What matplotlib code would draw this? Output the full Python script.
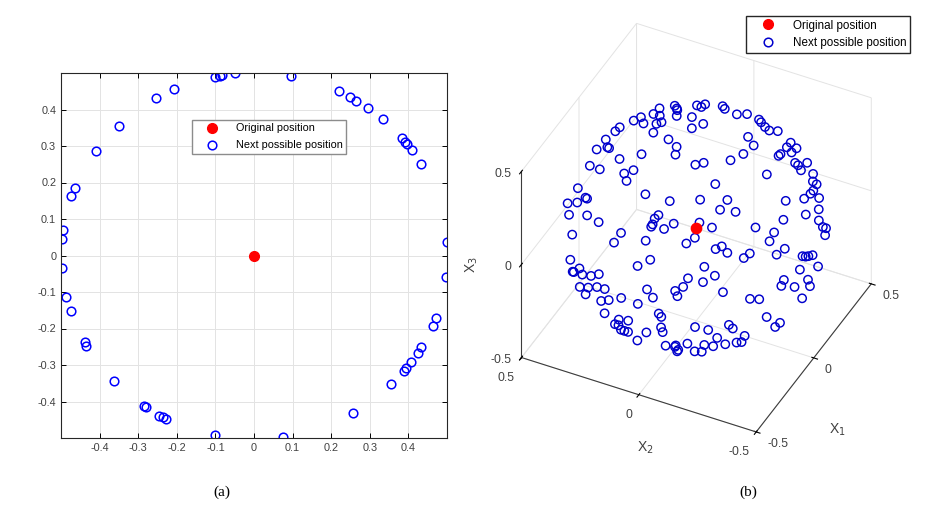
import matplotlib
matplotlib.use("Agg")
import matplotlib.pyplot as plt
from matplotlib.lines import Line2D

plt.rcParams["font.family"] = ["Liberation Sans", "DejaVu Sans"]
plt.rcParams["axes.unicode_minus"] = False
plt.rcParams["grid.color"] = "#e3e3e3"
plt.rcParams["grid.linewidth"] = 0.7

# (a) 2-D case: next possible positions on a circle of radius 0.5
pos_x = [-0.495, -0.497, -0.473, -0.463, -0.409, -0.351, -0.253, -0.207, -0.101, -0.088, -0.082, -0.049,
         0.095, 0.219, 0.248, 0.265, 0.295, 0.333, 0.383, 0.390, 0.397, 0.409, 0.432, 0.499,
         -0.498, -0.486, -0.475, -0.439, -0.434, -0.363, -0.286, -0.279, -0.245, -0.236, -0.227, -0.100,
         0.498, 0.471, 0.463, 0.433, 0.425, 0.408, 0.394, 0.389, 0.356, 0.257, 0.074]
pos_y = [0.070, 0.044, 0.162, 0.185, 0.286, 0.355, 0.431, 0.455, 0.490, 0.492, 0.494, 0.499,
         0.491, 0.450, 0.434, 0.423, 0.403, 0.373, 0.321, 0.311, 0.305, 0.288, 0.252, 0.036,
         -0.035, -0.114, -0.153, -0.238, -0.248, -0.345, -0.411, -0.416, -0.440, -0.443, -0.448, -0.491,
         -0.059, -0.172, -0.192, -0.252, -0.268, -0.292, -0.309, -0.316, -0.353, -0.431, -0.497]

# (b) 3-D case: next possible positions on a sphere of radius 0.5
x1 = [0.20, 0.34, 0.14, 0.38, 0.19, 0.28, 0.09, 0.35, 0.02, 0.34,
      0.11, 0.19, 0.03, 0.15, 0.03, 0.09, -0.08, 0.18, -0.03, 0.39,
      -0.09, 0.41, -0.15, 0.23, -0.13, 0.14, -0.22, 0.25, -0.26, -0.03,
      -0.27, 0.05, -0.26, -0.16, -0.27, 0.03, -0.30, 0.34, -0.35, 0.27,
      0.25, 0.39, 0.26, 0.41, 0.08, 0.43, 0.31, 0.41, 0.25, 0.42,
      0.32, 0.44, 0.27, 0.45, 0.32, 0.49, 0.09, 0.49, 0.33, 0.46,
      0.34, 0.44, 0.16, 0.49, -0.05, 0.44, -0.12, 0.45, 0.19, 0.44,
      0.31, 0.49, 0.28, 0.38, 0.27, 0.45, 0.18, 0.40, 0.21, 0.40,
      -0.20, 0.45, 0.08, 0.41, -0.21, 0.37, -0.08, 0.40, -0.38, -0.12,
      -0.41, 0.08, -0.32, -0.32, -0.31, -0.20, -0.42, -0.14, -0.46, -0.34,
      -0.43, -0.17, -0.47, -0.33, -0.46, -0.17, -0.49, -0.06, -0.47, 0.15,
      -0.42, 0.24, -0.38, 0.27, -0.36, 0.28, -0.44, 0.13, -0.47, 0.08,
      -0.49, 0.01, -0.41, -0.32, -0.45, -0.33, -0.47, -0.32, -0.41, -0.37,
      -0.37, -0.21, -0.49, -0.06, -0.47, -0.15, -0.41, -0.22, -0.39, -0.28,
      -0.33, -0.18, -0.32, 0.36, -0.36, 0.31, -0.33, 0.31, -0.20, 0.39,
      -0.18, 0.34, -0.18, 0.31, -0.27, 0.33, 0.12, 0.27, 0.16, 0.29,
      -0.05, 0.28, -0.01, 0.16, -0.40, 0.18, -0.39, 0.17, -0.10, 0.23,
      -0.20, 0.18, -0.05, 0.11, -0.06, 0.16, -0.29, 0.06, -0.13, -0.07,
      -0.44, -0.04, -0.37, -0.01, -0.37, -0.07, -0.26, -0.12, -0.32, -0.16,
      -0.38, -0.28, -0.30]
x2 = [0.19, 0.25, 0.15, 0.27, 0.25, 0.32, 0.20, 0.32, 0.18, 0.35,
      0.29, 0.36, 0.24, 0.40, 0.36, 0.43, 0.34, 0.46, 0.41, 0.31,
      0.04, 0.29, 0.16, 0.44, 0.39, 0.48, 0.16, 0.43, 0.17, 0.49,
      0.34, 0.49, 0.38, 0.47, 0.41, 0.48, 0.07, 0.28, -0.01, 0.31,
      0.12, 0.17, 0.09, 0.22, 0.01, 0.23, 0.04, 0.08, -0.05, -0.01,
      -0.11, -0.06, -0.16, -0.09, -0.19, 0.02, -0.20, 0.04, -0.24, -0.16,
      -0.26, -0.19, -0.28, -0.11, -0.17, 0.22, -0.09, -0.20, -0.34, -0.23,
      -0.32, -0.06, -0.36, -0.31, -0.38, 0.14, -0.41, -0.29, -0.42, 0.18,
      -0.23, -0.16, -0.42, 0.10, -0.27, -0.34, -0.41, -0.27, 0.23, 0.47,
      0.12, 0.39, 0.38, 0.37, 0.37, 0.40, 0.28, 0.38, 0.19, 0.33,
      0.25, 0.34, 0.16, 0.31, 0.18, 0.29, 0.08, 0.22, 0.02, 0.27,
      0.01, 0.31, 0.00, 0.27, -0.08, 0.18, -0.18, 0.12, -0.14, 0.12,
      -0.03, 0.19, 0.19, 0.19, 0.11, 0.17, 0.06, 0.15, 0.09, 0.14,
      0.07, 0.11, -0.08, 0.12, -0.08, 0.07, -0.07, -0.02, -0.10, -0.06,
      -0.08, -0.05, -0.17, 0.11, -0.17, 0.07, -0.27, 0.02, -0.35, -0.14,
      -0.40, -0.21, -0.43, -0.05, -0.36, -0.36, -0.48, -0.42, -0.47, -0.31,
      -0.49, -0.34, -0.50, -0.44, -0.23, 0.06, -0.27, -0.03, -0.49, -0.26,
      -0.46, -0.33, -0.50, -0.43, -0.48, -0.15, -0.41, -0.27, -0.42, -0.37,
      -0.21, -0.07, -0.32, -0.16, -0.27, -0.24, -0.32, -0.23, -0.28, -0.15,
      -0.22, -0.13, -0.17]
x3 = [0.42, 0.27, 0.46, 0.19, 0.39, 0.26, 0.45, 0.16, 0.47, 0.10,
      0.39, 0.28, 0.44, 0.26, 0.35, 0.23, 0.36, 0.10, 0.28, 0.04,
      0.49, -0.05, 0.45, 0.01, 0.28, 0.01, 0.42, -0.08, 0.39, 0.04,
      0.24, -0.08, 0.19, 0.07, 0.12, -0.15, 0.39, -0.24, 0.35, -0.29,
      0.41, 0.27, 0.42, 0.18, 0.49, 0.10, 0.39, 0.28, 0.43, 0.28,
      0.37, 0.24, 0.39, 0.20, 0.34, 0.09, 0.45, -0.01, 0.29, 0.13,
      0.26, 0.13, 0.38, 0.04, 0.47, -0.10, 0.48, 0.07, 0.32, 0.05,
      0.23, -0.08, 0.21, 0.07, 0.17, -0.18, 0.22, -0.02, 0.16, -0.24,
      0.40, -0.15, 0.26, -0.27, 0.36, -0.06, 0.27, -0.14, 0.24, -0.13,
      0.25, -0.30, -0.07, -0.13, -0.14, -0.22, -0.03, -0.30, 0.04, -0.18,
      -0.08, -0.32, -0.02, -0.22, -0.10, -0.37, -0.02, -0.45, 0.16, -0.40,
      0.26, -0.31, 0.32, -0.33, 0.34, -0.38, 0.15, -0.47, 0.09, -0.48,
      0.07, -0.46, -0.21, -0.34, -0.18, -0.33, -0.15, -0.36, -0.27, -0.31,
      -0.34, -0.44, -0.04, -0.48, -0.13, -0.47, -0.28, -0.45, -0.29, -0.41,
      -0.37, -0.46, 0.35, -0.33, 0.30, -0.39, 0.27, -0.39, 0.30, -0.28,
      0.23, -0.30, 0.17, -0.39, 0.22, -0.08, 0.10, -0.05, 0.02, -0.26,
      0.08, -0.24, 0.06, -0.16, 0.20, -0.46, 0.16, -0.47, 0.05, -0.36,
      0.03, -0.33, -0.04, -0.23, -0.14, -0.45, 0.01, -0.42, -0.24, -0.33,
      -0.10, -0.49, -0.10, -0.47, -0.19, -0.43, -0.28, -0.43, -0.26, -0.45,
      -0.24, -0.39, -0.36]

# original position (centre)
orig_2d = ([0], [0])
orig_3d = ([0], [0], [0])

ticks2d = [-0.4, -0.3, -0.2, -0.1, 0, 0.1, 0.2, 0.3, 0.4]
ticks3d = [-0.5, 0, 0.5]
labels = ["Original position", "Next possible position"]

fig = plt.figure(figsize=(9.42, 5.16), dpi=100)

# --- (a)
ax1 = fig.add_axes([61/942, 1-438/516, 386/942, 365/516])
ax1.plot(pos_x, pos_y, "o", ls="none", mfc="none", mec="b", ms=6.2, mew=1.1, label=labels[1])
ax1.plot(*orig_2d, "o", color="r", ms=7, label=labels[0])
ax1.set_xlim(-0.5, 0.5)
ax1.set_ylim(-0.5, 0.5)
ax1.set_xticks(ticks2d, [f"{t:g}" for t in ticks2d])
ax1.set_yticks(ticks2d, [f"{t:g}" for t in ticks2d])
ax1.grid(True)
ax1.tick_params(direction="in", length=3.5, top=True, right=True, labelsize=7.8, labelcolor="#404040", width=0.7)
for s in ax1.spines.values():
    s.set_linewidth(0.8)
    s.set_color("#262626")
h, l = ax1.get_legend_handles_labels()
ax1.legend(h[::-1], l[::-1], loc="upper left", bbox_to_anchor=(0.339, 0.871), fontsize=7.8,
           fancybox=False, edgecolor="#8c8c8c", framealpha=1, borderpad=0.3, borderaxespad=0,
           handlelength=3.2, handletextpad=0.55, labelspacing=0.65)

# --- (b)
blue3d = "#0000cc"
ax2 = fig.add_axes([0.4830, 0.0910, 0.499, 0.911], projection="3d")
ax2.set_proj_type("ortho")
ax2.view_init(elev=39.7, azim=-153.6)
ax2.set_box_aspect((260.9, 264.2, 243.8), zoom=0.91)
ax2.computed_zorder = False
ax2.scatter(x1, x2, x3, facecolors="none", edgecolors=blue3d, s=36, linewidths=1.05, depthshade=False)
ax2.scatter(*orig_3d, c="r", s=55, depthshade=False)
ax2.set_xlim(-0.5, 0.5)
ax2.set_ylim(-0.5, 0.5)
ax2.set_zlim(-0.5, 0.5)
for ax_ in (ax2.xaxis, ax2.yaxis, ax2.zaxis):
    ax_.set_pane_color((1, 1, 1, 0))
    ax_.pane.set_edgecolor("#d9d9d9")
    ax_.line.set_color("#3c3c3c")
    ax_.set_ticks(ticks3d, [f"{t:g}" for t in ticks3d])
ax2.tick_params(labelsize=8.8, labelcolor="#404040")
ax2.xaxis.set_tick_params(pad=0.2)
ax2.yaxis.set_tick_params(pad=2.6)
ax2.zaxis.set_tick_params(pad=-3)
plt.setp(ax2.get_xticklabels(), ha="left", va="center")
plt.setp(ax2.get_yticklabels(), ha="right", va="center")
plt.setp(ax2.get_zticklabels(), ha="right", va="center")
fig.text(837/942, 1-430/516, "X$_1$", ha="center", va="center", fontsize=10, color="#404040")
fig.text(645/942, 1-448/516, "X$_2$", ha="center", va="center", fontsize=10, color="#404040")
fig.text(472/942, 1-265/516, "X$_3$", ha="center", va="center", fontsize=10, color="#404040", rotation=90)
ax2.legend(handles=[Line2D([], [], marker="o", ls="none", color="r", ms=7),
                    Line2D([], [], marker="o", ls="none", mfc="none", mec=blue3d, ms=6.2, mew=1.1)],
           labels=labels, loc="upper left", bbox_to_anchor=(746/942, 1-16/516), bbox_transform=fig.transFigure,
           fontsize=8.4, fancybox=False, edgecolor="#262626", framealpha=1, borderpad=0.3, borderaxespad=0,
           handlelength=3.2, handletextpad=0.55, labelspacing=0.5)

fig.text(222/942, 1-492/516, "(a)", ha="center", va="center", family="Liberation Serif", fontsize=11)
fig.text(748/942, 1-492/516, "(b)", ha="center", va="center", family="Liberation Serif", fontsize=11)
fig.savefig("out.png", dpi=100)
